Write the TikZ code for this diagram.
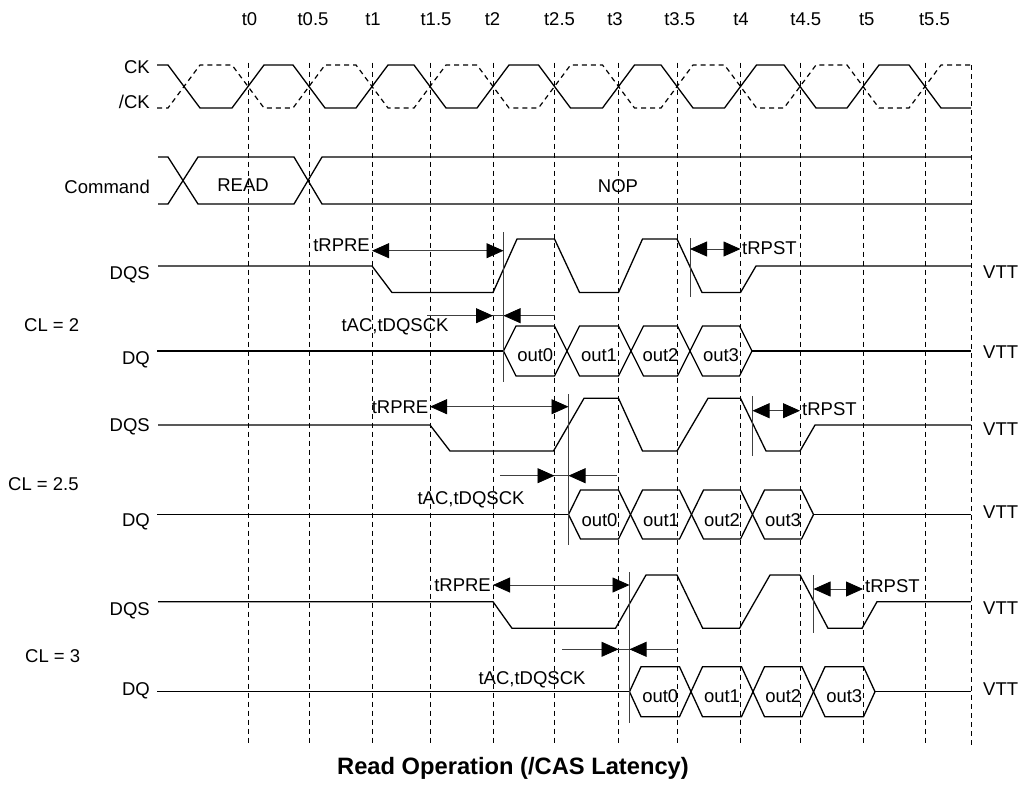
\documentclass[tikz,border=0pt]{standalone}
\usepackage{fontspec}
\setmainfont{Liberation Sans}
\usetikzlibrary{arrows.meta}
\begin{document}
\begin{tikzpicture}[x=1pt,y=-1pt,
  sigl/.style={line width=1.3pt,black,line join=miter},
  clkd/.style={line width=1.2pt,black,dash pattern=on 5pt off 4pt},
  gline/.style={line width=0.95pt,black,dash pattern=on 5pt off 4pt},
  aline/.style={line width=0.8pt,black!75},
  onehead/.style={aline,-{Triangle[length=17pt,width=15pt,color=black]}},
  twohead/.style={aline,{Triangle[length=17pt,width=15pt,color=black]}-{Triangle[length=17pt,width=15pt,color=black]}},
  lbl/.style={font=\fontsize{18.5}{22}\selectfont,inner sep=0pt},
  ttl/.style={font=\bfseries\fontsize{23.7}{28}\selectfont,inner sep=0pt}]
\useasboundingbox (0,0) rectangle (1024,785);
\fill[white] (0,0) rectangle (1024,785);

\newcommand\hexcell[8]{%
  \draw[sigl] (#1,#4) -- (#1+#3,#4-#5) -- (#2-#3,#4-#5) -- (#2,#4) -- (#2-#3,#4+#5) -- (#1+#3,#4+#5) -- cycle;
  \node[lbl,anchor=base] (#8) at ({(#1+#2)/2},#6) {#7};}

% time labels
\foreach \x/\t/\n in {249.5/t0/a,313/t0.5/b,373/t1/c,436/t1.5/d,492.5/t2/e,559.5/t2.5/f,615/t3/g,679.7/t3.5/h,741/t4/i,805.8/t4.5/j,866.7/t5/k,934.5/t5.5/l}
  \node[lbl,anchor=base] (time\n) at (\x,25) {\t};

% grid lines
\foreach \x in {248,309,372,430,493,554.5,618.5,677,740.5,800,863,925}
  \draw[gline] (\x,62.7) -- (\x,745);
\draw[gline] (971,65) -- (971,745);

% clock
\node[lbl,anchor=base east] (lck) at (150,73.5) {CK};
\node[lbl,anchor=base east] (lnck) at (150,108) {/CK};
\draw[sigl] (157,65) -- (168,65) -- (200,108) -- (232,108) -- (264,65) -- (293,65) -- (325,108) -- (356,108) -- (388,65) -- (414,65) -- (446,108) -- (477,108) -- (509,65) -- (538.5,65) -- (570.5,108) -- (602.5,108) -- (634.5,65) -- (661,65) -- (693,108) -- (724.5,108) -- (756.5,65) -- (784,65) -- (816,108) -- (847,108) -- (879,65) -- (909,65) -- (941,108) -- (971,108);
\draw[clkd] (157,108) -- (168,108) -- (200,65) -- (232,65) -- (264,108) -- (293,108) -- (325,65) -- (356,65) -- (388,108) -- (414,108) -- (446,65) -- (477,65) -- (509,108) -- (538.5,108) -- (570.5,65) -- (602.5,65) -- (634.5,108) -- (661,108) -- (693,65) -- (724.5,65) -- (756.5,108) -- (784,108) -- (816,65) -- (847,65) -- (879,108) -- (909,108) -- (941,65) -- (971,65);

% command
\node[lbl,anchor=base east] (lcmd) at (150,193.3) {Command};
\draw[sigl] (158,157) -- (168,157) -- (198,204) -- (294,204) -- (322,157) -- (971,157);
\draw[sigl] (158,204) -- (168,204) -- (198,157) -- (294,157) -- (322,204) -- (971,204);
\node[lbl,anchor=base] (read) at (243,191.7) {READ};
\node[lbl,anchor=base] (nop) at (618,192) {NOP};

% ---------------- CL = 2 ----------------
\node[lbl,anchor=base west] (cl2) at (24,331) {CL = 2};
\node[lbl,anchor=base east] (dqs2) at (150,279.6) {DQS};
\node[lbl,anchor=base east] (dq2) at (150,364.6) {DQ};
\node[lbl,anchor=base west] (vtts2) at (983,278) {VTT};
\node[lbl,anchor=base west] (vttq2) at (983,358) {VTT};
\draw[sigl] (158,266) -- (372,266) -- (392,292.5) -- (493,292.5) -- (517,239) -- (554.5,239) -- (579.5,292.5) -- (618.5,292.5) -- (642.5,239) -- (677,239) -- (702,292.5) -- (740.5,292.5) -- (756,266) -- (971,266);
\draw[sigl] (157,351) -- (503.5,351);
\hexcell{503.5}{567}{12.5}{351}{25}{361.7}{out0}{oa2}
\hexcell{567}{631}{12.5}{351}{25}{361.7}{out1}{ob2}
\hexcell{631}{690}{12.5}{351}{25}{361.7}{out2}{oc2}
\hexcell{690}{752}{12.5}{351}{25}{361.7}{out3}{od2}
\draw[sigl] (752,351) -- (971,351);
\draw[aline] (503.5,232) -- (503.5,382);
\draw[aline] (690,238) -- (690,297);
\coordinate (p2a) at (372,250.7); \coordinate (p2b) at (503.5,250.7);
\draw[twohead] (p2a) -- (p2b);
\node[lbl,anchor=base east] (trpre2) at (370,251.2) {tRPRE};
\coordinate (s2a) at (690,249); \coordinate (s2b) at (740.5,249);
\draw[twohead] (s2a) -- (s2b);
\node[lbl,anchor=base west] (trpst2) at (742,254.5) {tRPST};
\coordinate (a2l) at (427,315.7); \coordinate (a2t) at (493,315.7);
\coordinate (a2r) at (555,315.7); \coordinate (a2u) at (503.5,315.7);
\draw[aline] (a2l) -- (a2r);
\draw[onehead] (a2l) -- (a2t);
\draw[onehead] (a2r) -- (a2u);
\node[lbl,anchor=base] (tac2) at (395,331) {tAC,tDQSCK};

% ---------------- CL = 2.5 ----------------
\node[lbl,anchor=base west] (cl25) at (8,490.6) {CL = 2.5};
\node[lbl,anchor=base east] (dqs25) at (150,431) {DQS};
\node[lbl,anchor=base east] (dq25) at (150,526) {DQ};
\node[lbl,anchor=base west] (vtts25) at (983,435) {VTT};
\node[lbl,anchor=base west] (vttq25) at (983,518) {VTT};
\draw[sigl] (158,425) -- (430,425) -- (450,451) -- (553.5,451) -- (584,398.3) -- (618.5,398.3) -- (642.5,451) -- (677,451) -- (708,398.3) -- (740.5,398.3) -- (766,451) -- (800,451) -- (815,425) -- (971,425);
\draw[sigl] (157,514.5) -- (568.5,514.5);
\hexcell{568.5}{630.5}{12}{514.5}{24.5}{526.7}{out0}{oa25}
\hexcell{630.5}{691.5}{12}{514.5}{24.5}{526.7}{out1}{ob25}
\hexcell{691.5}{752.5}{12}{514.5}{24.5}{526.7}{out2}{oc25}
\hexcell{752.5}{813.5}{12}{514.5}{24.5}{526.7}{out3}{od25}
\draw[sigl] (813.5,514.5) -- (971,514.5);
\draw[aline] (568.5,394) -- (568.5,545);
\draw[aline] (752.5,396) -- (752.5,456);
\coordinate (p25a) at (430,406.7); \coordinate (p25b) at (568.5,406.7);
\draw[twohead] (p25a) -- (p25b);
\node[lbl,anchor=base east] (trpre25) at (428.5,413.6) {tRPRE};
\coordinate (s25a) at (752.5,410.7); \coordinate (s25b) at (800,410.7);
\draw[twohead] (s25a) -- (s25b);
\node[lbl,anchor=base west] (trpst25) at (802,415) {tRPST};
\coordinate (a25l) at (500,475.7); \coordinate (a25t) at (554.5,475.7);
\coordinate (a25r) at (617,475.7); \coordinate (a25u) at (568.5,475.7);
\draw[aline] (a25l) -- (a25r);
\draw[onehead] (a25l) -- (a25t);
\draw[onehead] (a25r) -- (a25u);
\node[lbl,anchor=base] (tac25) at (471,504.6) {tAC,tDQSCK};

% ---------------- CL = 3 ----------------
\node[lbl,anchor=base west] (cl3) at (25,662.2) {CL = 3};
\node[lbl,anchor=base east] (dqs3) at (150,615.6) {DQS};
\node[lbl,anchor=base east] (dq3) at (150,695.6) {DQ};
\node[lbl,anchor=base west] (vtts3) at (983,614) {VTT};
\node[lbl,anchor=base west] (vttq3) at (983,695) {VTT};
\draw[sigl] (158,601.7) -- (493,601.7) -- (512,628.3) -- (615.5,628.3) -- (646,575) -- (677,575) -- (702.7,628.3) -- (739.5,628.3) -- (770,575) -- (800,575) -- (828,628.3) -- (862,628.3) -- (877,601.7) -- (971,601.7);
\draw[sigl] (157,691.7) -- (629.5,691.7);
\hexcell{629.5}{691}{11.5}{691.7}{25}{702.7}{out0}{oa3}
\hexcell{691}{753}{11.5}{691.7}{25}{702.7}{out1}{ob3}
\hexcell{753}{813.5}{11.5}{691.7}{25}{702.7}{out2}{oc3}
\hexcell{813.5}{875}{11.5}{691.7}{25}{702.7}{out3}{od3}
\draw[sigl] (875,691.7) -- (971,691.7);
\draw[aline] (629.5,572) -- (629.5,723);
\draw[aline] (813.5,575) -- (813.5,633);
\coordinate (p3a) at (493,585); \coordinate (p3b) at (629.5,585);
\draw[twohead] (p3a) -- (p3b);
\node[lbl,anchor=base east] (trpre3) at (491,591.2) {tRPRE};
\coordinate (s3a) at (813.5,589); \coordinate (s3b) at (863,589);
\draw[twohead] (s3a) -- (s3b);
\node[lbl,anchor=base west] (trpst3) at (865,592) {tRPST};
\coordinate (a3l) at (562,649.3); \coordinate (a3t) at (618.5,649.3);
\coordinate (a3r) at (677,649.3); \coordinate (a3u) at (629.5,649.3);
\draw[aline] (a3l) -- (a3r);
\draw[onehead] (a3l) -- (a3t);
\draw[onehead] (a3r) -- (a3u);
\node[lbl,anchor=base] (tac3) at (532,684.6) {tAC,tDQSCK};

% title
\node[ttl,anchor=base] (title) at (513,774) {Read Operation (/CAS Latency)};
\end{tikzpicture}
\end{document}
